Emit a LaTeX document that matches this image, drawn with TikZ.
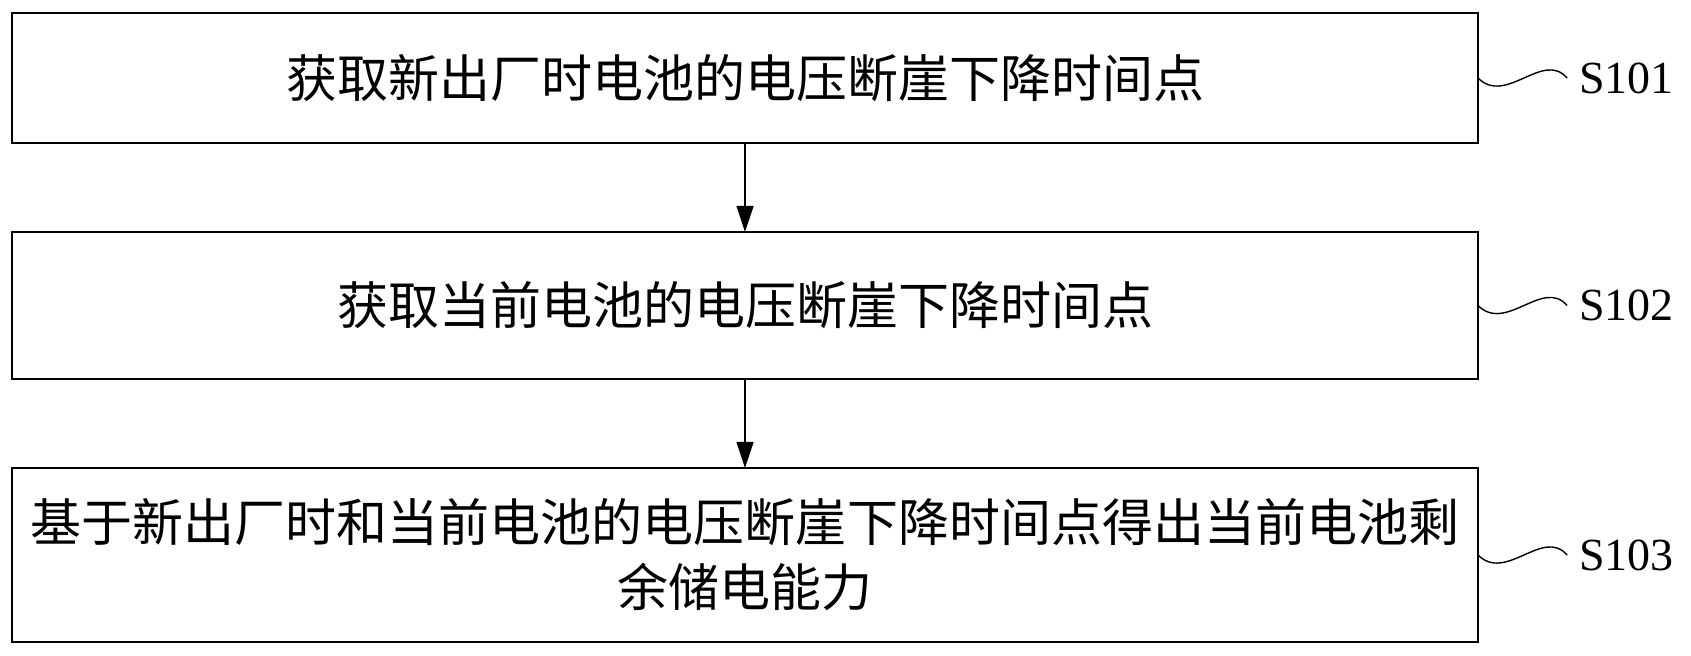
\documentclass[tikz,border=0pt]{standalone}
\usepackage{fontspec}
\newfontfamily\cjk{Noto Sans CJK SC}
\newfontfamily\labelfont{Liberation Serif}
\usepackage{tikz}
\usetikzlibrary{arrows.meta,positioning,calc}

\begin{document}
\begin{tikzpicture}[node distance=44.5pt, stepbox/.style={rectangle, draw=black, line width=0.7pt, minimum width=733pt, inner sep=0pt, outer sep=0pt, align=center, font=\cjk\fontsize{25.5}{32.5}\selectfont}, steplabel/.style={inner sep=0pt, font=\labelfont\fontsize{23}{23}\selectfont}, squiggle/.style={line width=0.7pt}]
\useasboundingbox (0,0) rectangle (845.5pt,-328pt);
\node[stepbox, minimum height=65pt] (s1) at (372.5pt,-39pt) {获取新出厂时电池的电压断崖下降时间点};
\node[stepbox, minimum height=73.5pt, below=of s1] (s2) {获取当前电池的电压断崖下降时间点};
\node[stepbox, minimum height=87pt, below=of s2] (s3) {基于新出厂时和当前电池的电压断崖下降时间点得出当前电池剩\\余储电能力};
\coordinate[right=44.5pt of s1.east] (t1);
\coordinate[right=44.5pt of s2.east] (t2);
\coordinate[right=44.5pt of s3.east] (t3);
\node[steplabel, right=6pt of t1] (l1) {S101};
\node[steplabel, right=6pt of t2] (l2) {S102};
\node[steplabel, right=6pt of t3] (l3) {S103};
\draw[squiggle] (s1.east) .. controls ($(s1.east)+(14pt,-14pt)$) and ($(t1)+(-12pt,14pt)$) .. (t1);
\draw[squiggle] (s2.east) .. controls ($(s2.east)+(14pt,-14pt)$) and ($(t2)+(-12pt,14pt)$) .. (t2);
\draw[squiggle] (s3.east) .. controls ($(s3.east)+(14pt,-14pt)$) and ($(t3)+(-12pt,14pt)$) .. (t3);
\draw[-{Triangle[length=13pt,width=8.5pt]}, line width=0.6pt] (s1) -- (s2);
\draw[-{Triangle[length=13pt,width=8.5pt]}, line width=0.6pt] (s2) -- (s3);
\end{tikzpicture}
\end{document}
